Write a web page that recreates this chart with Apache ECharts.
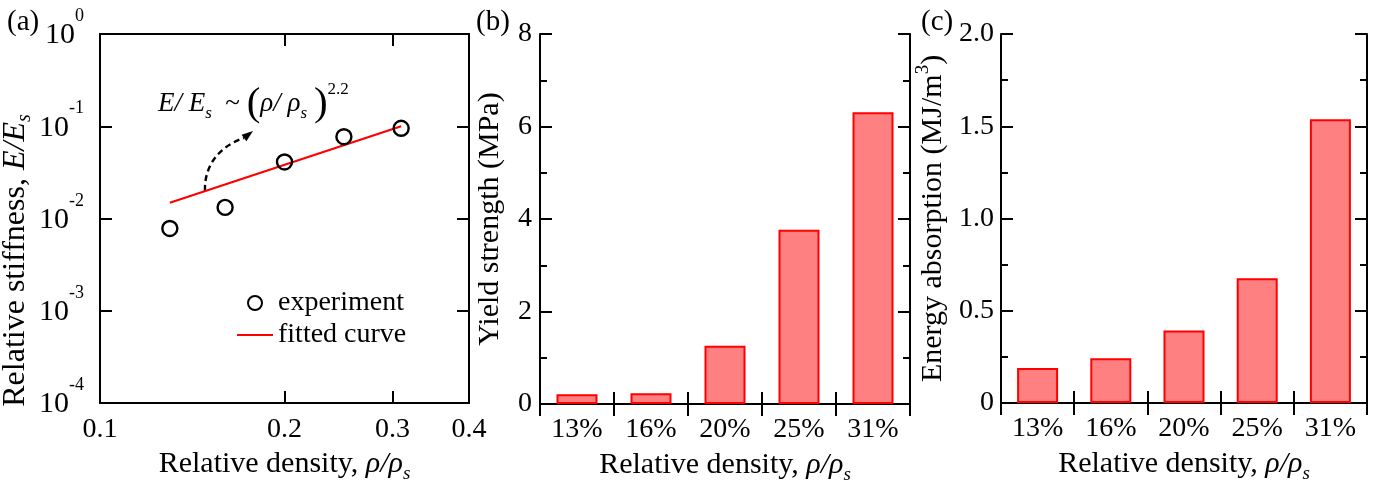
<!DOCTYPE html>
<html><head><meta charset="utf-8">
<script src="https://cdn.jsdelivr.net/npm/echarts@6/dist/echarts.min.js"></script>
<style>html,body{margin:0;padding:0;background:#fff}#c{width:1376px;height:481px}</style>
</head><body><div id="c"></div>
<script>
// ---- data ----
const densityLabels = ['13%', '16%', '20%', '25%', '31%'];
const expDensity = [0.13, 0.16, 0.20, 0.25, 0.31];
const expStiffness = [0.0078, 0.0132, 0.041, 0.077, 0.095];
const fitDensity = [0.13, 0.31];
const fitStiffness = [0.0148, 0.100];
const yieldStrength = [0.21, 0.23, 1.26, 3.77, 6.31];
const energyAbsorption = [0.19, 0.243, 0.393, 0.676, 1.538];
const xTicksA = [0.1, 0.2, 0.3, 0.4];

const FF = 'Liberation Serif';
const BLACK = '#000';
const TICK_FS = 28;
const NAME_FS = 30;
const axisLine = { show: true, lineStyle: { color: BLACK, width: 2 } };
const tick = (extra) => Object.assign({ show: true, inside: true, length: 12, lineStyle: { color: BLACK, width: 2 } }, extra || {});
const minor = { show: true, splitNumber: 2, length: 7, lineStyle: { color: BLACK, width: 2 } };
const lbl = (extra) => Object.assign({ fontFamily: FF, fontSize: TICK_FS, color: BLACK }, extra || {});
const nameStyle = (fs, extra) => Object.assign({ fontFamily: FF, fontSize: fs, color: BLACK,
  rich: {
    n: { fontFamily: FF, fontSize: fs, color: BLACK },
    i: { fontFamily: FF, fontSize: fs, color: BLACK, fontStyle: 'italic' },
    sub: { fontFamily: FF, fontSize: Math.round(fs * 0.62), color: BLACK, fontStyle: 'italic', verticalAlign: 'bottom', lineHeight: fs + 8 },
    sup: { fontFamily: FF, fontSize: Math.round(fs * 0.62), color: BLACK, verticalAlign: 'top', lineHeight: fs + 8 }
  } }, extra || {});
const densName = '{n|Relative density, }{i|ρ/ρ}{sub|s}';

const chart = echarts.init(document.getElementById('c'), null, { renderer: 'canvas' });

const option = {
  animation: false,
  backgroundColor: '#fff',
  grid: [
    { left: 100, top: 34, width: 369, height: 369, outerBoundsMode: 'none', containLabel: false },
    { left: 540, top: 34, width: 370, height: 370, outerBoundsMode: 'none', containLabel: false },
    { left: 1001, top: 34, width: 366, height: 369, outerBoundsMode: 'none', containLabel: false }
  ],
  legend: {
    data: ['experiment', { name: 'fitted curve', icon: 'path://M0,0 L36,0 L36,2.2 L0,2.2 Z' }],
    orient: 'vertical', left: 232, top: 284,
    itemWidth: 36, itemHeight: 14, itemGap: 4,
    textStyle: { fontFamily: FF, fontSize: 28, color: BLACK, lineHeight: 28 }
  },
  xAxis: [
    { type: 'log', gridIndex: 0, min: 0.1, max: 0.4, position: 'bottom',
      axisLine, axisTick: tick({ customValues: xTicksA }), splitLine: { show: false },
      axisLabel: lbl({ customValues: xTicksA, margin: 13, formatter: v => (+v).toFixed(1) }),
      name: densName, nameLocation: 'middle', nameGap: 42, nameTextStyle: nameStyle(NAME_FS) },
    { type: 'log', gridIndex: 0, min: 0.1, max: 0.4, position: 'top',
      axisLine, axisTick: tick({ customValues: xTicksA }), splitLine: { show: false },
      axisLabel: { show: false } },
    { type: 'category', gridIndex: 1, data: densityLabels, position: 'bottom', boundaryGap: true,
      axisLine, axisTick: tick(), splitLine: { show: false },
      axisLabel: lbl({ margin: 12 }),
      name: densName, nameLocation: 'middle', nameGap: 42, nameTextStyle: nameStyle(NAME_FS) },
    { type: 'category', gridIndex: 1, data: densityLabels, position: 'top', boundaryGap: true,
      axisLine, axisTick: tick(), axisLabel: { show: false } },
    { type: 'category', gridIndex: 2, data: densityLabels, position: 'bottom', boundaryGap: true,
      axisLine, axisTick: tick(), splitLine: { show: false },
      axisLabel: lbl({ margin: 12 }),
      name: densName, nameLocation: 'middle', nameGap: 42, nameTextStyle: nameStyle(NAME_FS) },
    { type: 'category', gridIndex: 2, data: densityLabels, position: 'top', boundaryGap: true,
      axisLine, axisTick: tick(), axisLabel: { show: false } }
  ],
  yAxis: [
    { type: 'log', gridIndex: 0, min: 1e-4, max: 1, position: 'left',
      axisLine, axisTick: tick(), splitLine: { show: false },
      axisLabel: lbl({ margin: 16, padding: [0, 0, 10, 0], formatter: v => '{b|10}{s|' + Math.round(Math.log10(v)) + '}',
        rich: { b: { fontFamily: FF, fontSize: 30, color: BLACK, lineHeight: 43, verticalAlign: 'bottom' },
                s: { fontFamily: FF, fontSize: 18, color: BLACK, verticalAlign: 'top' } } }),
      name: '{n|Relative stiffness, }{i|E/E}{sub|s}', nameLocation: 'middle', nameGap: 53,
      nameTextStyle: nameStyle(32, { padding: [0, 84, 0, 0] }) },
    { type: 'log', gridIndex: 0, min: 1e-4, max: 1, position: 'right',
      axisLine, axisTick: tick(), splitLine: { show: false }, axisLabel: { show: false } },
    { type: 'value', gridIndex: 1, min: 0, max: 8, interval: 2, position: 'left',
      axisLine, axisTick: tick(), minorTick: minor, splitLine: { show: false }, minorSplitLine: { show: false },
      axisLabel: lbl({ margin: 8 }),
      name: 'Yield strength (MPa)', nameLocation: 'middle', nameGap: 35, nameTextStyle: nameStyle(NAME_FS) },
    { type: 'value', gridIndex: 1, min: 0, max: 8, interval: 2, position: 'right',
      axisLine, axisTick: tick(), minorTick: minor, splitLine: { show: false }, axisLabel: { show: false } },
    { type: 'value', gridIndex: 2, min: 0, max: 2, interval: 0.5, position: 'left',
      axisLine, axisTick: tick(), minorTick: minor, splitLine: { show: false },
      axisLabel: lbl({ margin: 7, formatter: v => v === 0 ? '0' : v.toFixed(1) }),
      name: '{n|Energy absorption (MJ/m}{sup|3}{n|)}', nameLocation: 'middle', nameGap: 49, nameTextStyle: nameStyle(NAME_FS) },
    { type: 'value', gridIndex: 2, min: 0, max: 2, interval: 0.5, position: 'right',
      axisLine, axisTick: tick(), minorTick: minor, splitLine: { show: false }, axisLabel: { show: false } }
  ],
  series: [
    { name: 'fitted curve', type: 'line', xAxisIndex: 0, yAxisIndex: 0,
      data: fitDensity.map((x, i) => [x, fitStiffness[i]]),
      symbol: 'none', showSymbol: false, lineStyle: { color: '#ff0000', width: 2.2 }, itemStyle: { color: '#ff0000' } },
    { name: 'experiment', type: 'scatter', xAxisIndex: 0, yAxisIndex: 0,
      data: expDensity.map((x, i) => [x, expStiffness[i]]),
      symbol: 'circle', symbolSize: 15, z: 3,
      itemStyle: { color: 'rgba(255,255,255,0)', borderColor: BLACK, borderWidth: 2.4, opacity: 1 } },
    { name: 'yield', type: 'bar', xAxisIndex: 2, yAxisIndex: 2, data: yieldStrength, barWidth: 41,
      itemStyle: { color: '#ff8080', borderColor: '#ff0000', borderWidth: 2 } },
    { name: 'energy', type: 'bar', xAxisIndex: 4, yAxisIndex: 4, data: energyAbsorption, barWidth: 41,
      itemStyle: { color: '#ff8080', borderColor: '#ff0000', borderWidth: 2 } }
  ],
  graphic: [
    { type: 'text', left: 7, top: 8, style: { text: '(a)', font: '29px "Liberation Serif"', fill: BLACK } },
    { type: 'text', left: 476, top: 8, style: { text: '(b)', font: '29px "Liberation Serif"', fill: BLACK } },
    { type: 'text', left: 921, top: 8, style: { text: '(c)', font: '29px "Liberation Serif"', fill: BLACK } },
    { type: 'text', left: 158, top: 81, style: {
        text: '{it|E/ E}{sub|s}{n|  ~ }{par|(}{it|ρ/ ρ}{sub|s}{n| }{par|)}{sup|2.2}',
        rich: {
          it: { fontFamily: FF, fontSize: 27, fontStyle: 'italic', fill: BLACK, lineHeight: 46 },
          n: { fontFamily: FF, fontSize: 27, fill: BLACK, lineHeight: 46 },
          sub: { fontFamily: FF, fontSize: 17, fontStyle: 'italic', fill: BLACK, verticalAlign: 'bottom', padding: [0, 0, 5, 0] },
          par: { fontFamily: FF, fontSize: 41, fill: BLACK, lineHeight: 46 },
          sup: { fontFamily: FF, fontSize: 17, fill: BLACK, verticalAlign: 'top' }
        } } },
    { type: 'bezierCurve', shape: { x1: 205, y1: 191, cpx1: 204, cpy1: 165, cpx2: 220, cpy2: 146, x2: 244, y2: 138 },
      style: { stroke: BLACK, lineWidth: 2.4, lineDash: [6, 4], fill: null } },
    { type: 'polygon', shape: { points: [[253, 131], [246.4, 141.2], [241.6, 134.8]] }, style: { fill: BLACK } }
  ]
};
chart.setOption(option);
</script>
</body></html>
